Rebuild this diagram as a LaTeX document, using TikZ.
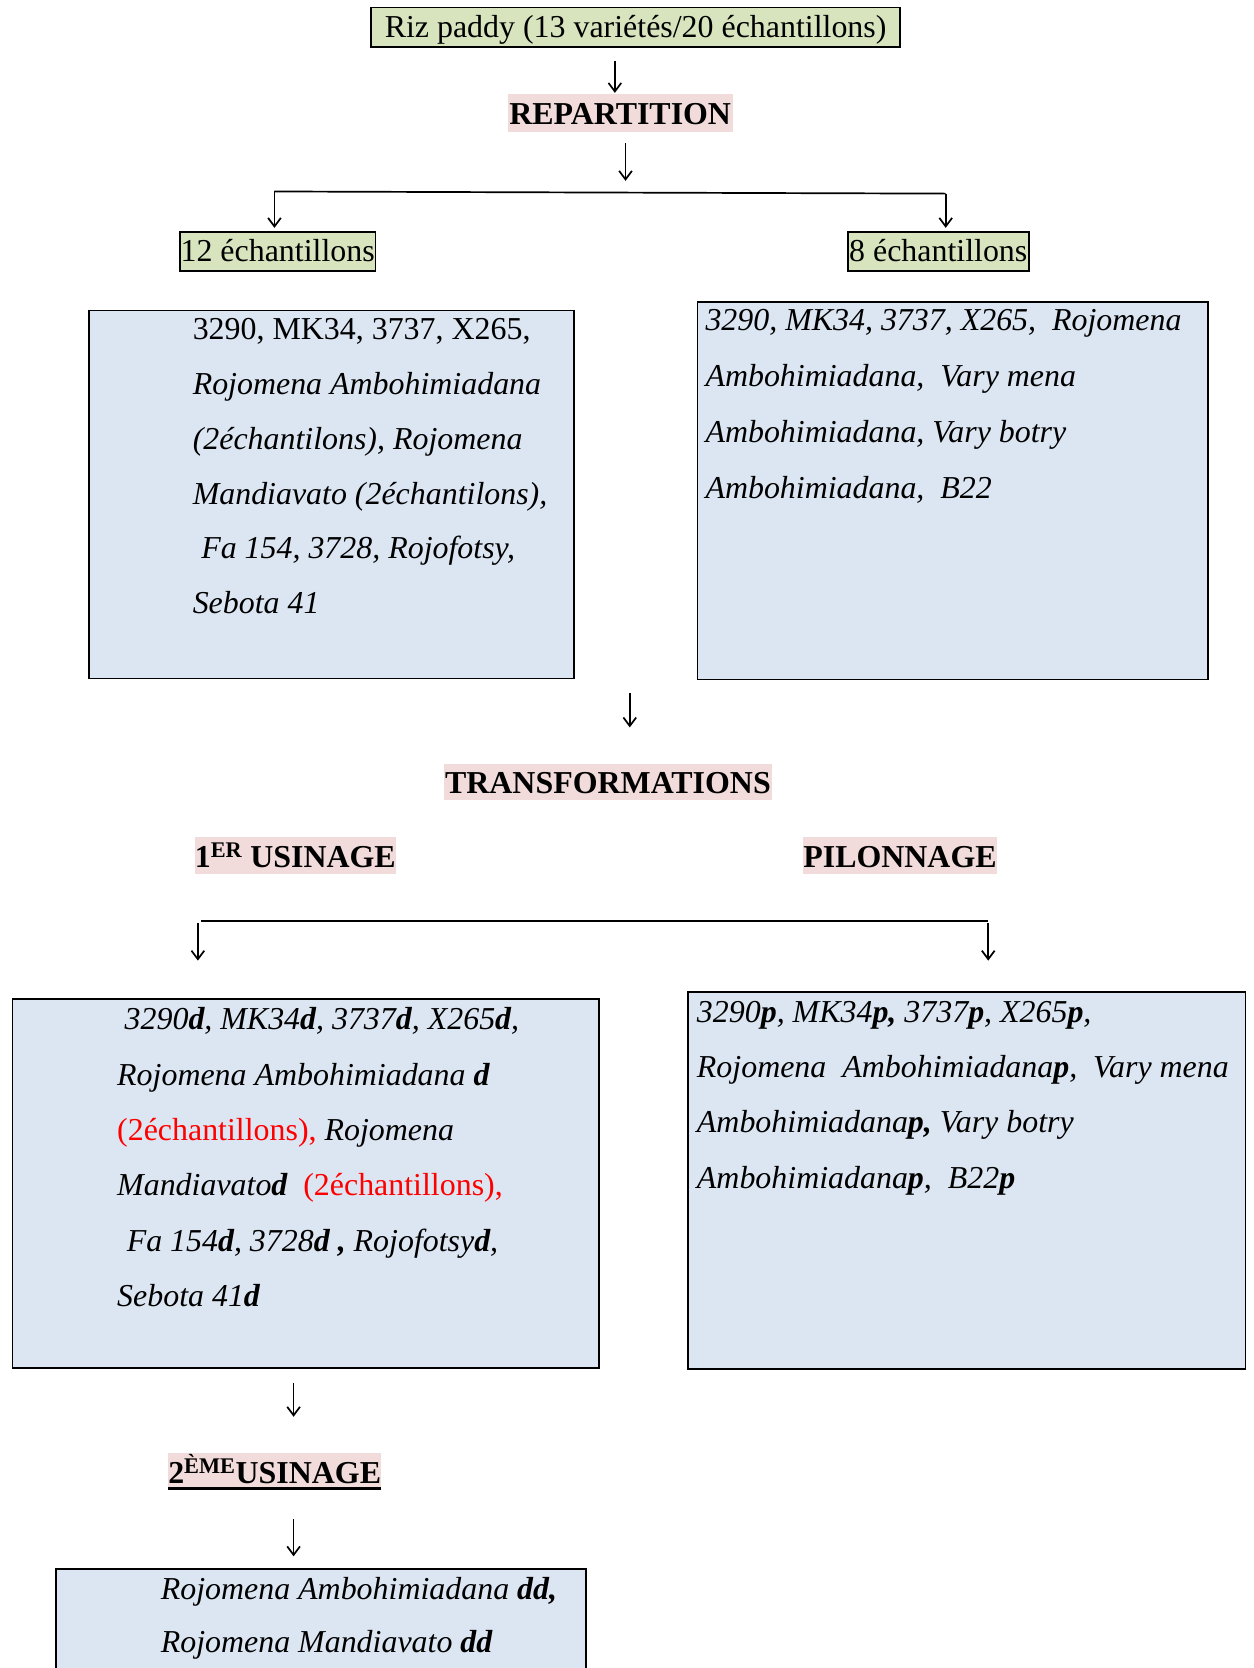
\documentclass[tikz,border=0pt]{standalone}
\usepackage{fontspec}
\setmainfont{Liberation Serif}
\usetikzlibrary{arrows.meta}
\definecolor{mygreen}{HTML}{D7E4BD}
\definecolor{mypink}{HTML}{F2DCDB}
\definecolor{myblue}{HTML}{DCE6F2}
\definecolor{myred}{HTML}{FF0000}
\tikzset{
  greenbox/.style={draw, line width=1.6pt, fill=mygreen, inner sep=0pt, text height=28pt, text depth=9pt, font=\fontsize{30}{36}\selectfont},
  hl/.style={fill=mypink, inner xsep=1.5pt, inner ysep=0pt, text height=29pt, text depth=7pt, font=\fontsize{30}{36}\selectfont\bfseries},
  bluebox/.style={draw, line width=1.6pt, fill=myblue, inner sep=0pt, anchor=north west},
  txt/.style={anchor=base west, inner sep=0pt, font=\fontsize{30}{36}\selectfont},
  arr/.style={line width=1.6pt, -{Straight Barb[length=8pt,width=12pt,line width=1.6pt]}},
  conn/.style={line width=1.6pt}
}
\begin{document}
\begin{tikzpicture}[x=1pt,y=-1pt]
\useasboundingbox (0,0) rectangle (1178,1568);
\clip (0,0) rectangle (1178,1568);
\fill[white] (0,0) rectangle (1178,1568);

% top
\node[greenbox, minimum width=497pt, anchor=base] (riz) at (597.5,35) {Riz paddy (13 variétés/20 échantillons)};
\node[hl, anchor=base] (rep) at (583,117.5) {REPARTITION};
\coordinate (c1) at (578,0);
\draw[arr] ([yshift=-13pt]riz.south -| c1) -- ([yshift=1pt]rep.north -| c1);

\coordinate (sl) at (258,180);
\coordinate (sr) at (889,182);
\coordinate (c2) at (588,0);
\draw[arr] ([yshift=-10pt]rep.south -| c2) -- ([yshift=10pt]sl -| c2);
\draw[conn] (sl) -- (sr);

\node[greenbox, minimum width=184pt, anchor=base] (e12) at (261,246) {12 échantillons};
\node[greenbox, minimum width=170pt, anchor=base] (e8) at (882,246) {8 échantillons};
\draw[arr] (sl) -- ([yshift=3pt]e12.north -| sl);
\draw[arr] (sr) -- ([yshift=3pt]e8.north -| sr);

% first boxes
\node[bluebox, minimum width=456pt, minimum height=346pt] (b1l) at (83,291) {};
\node[bluebox, minimum width=480pt, minimum height=355pt] (b1r) at (655,283) {};

\node[txt] (l1) at (181,319) {3290, MK34, 3737, X265,};
\node[txt] (l2) at (181,370.6) {\itshape Rojomena Ambohimiadana};
\node[txt] (l3) at (181,422.2) {\itshape (2échantilons), Rojomena};
\node[txt] (l4) at (181,473.8) {\itshape Mandiavato (2échantilons),};
\node[txt] (l5) at (189,525.4) {\itshape Fa 154, 3728, Rojofotsy,};
\node[txt] (l6) at (181,577) {\itshape Sebota 41};

\node[txt] (r1) at (663,311) {\itshape 3290, MK34, 3737, X265,~ Rojomena};
\node[txt] (r2) at (663,363.4) {\itshape Ambohimiadana,~ Vary mena};
\node[txt] (r3) at (663,415.8) {\itshape Ambohimiadana, Vary botry};
\node[txt] (r4) at (663,468.2) {\itshape Ambohimiadana,~ B22};

% transformations
\node[hl, anchor=base, text height=27.5pt, text depth=6.5pt] (tr) at (571.5,745.5) {TRANSFORMATIONS};
\coordinate (c3) at (592,0);
\draw[arr] ([yshift=-12pt]b1r.south -| c3) -- ([yshift=34pt]tr.north -| c3);

\node[hl, anchor=base west, text height=28.5pt, text depth=6.5pt, inner xsep=0pt] (us1) at (183,815.5) {1\textsuperscript{ER} USINAGE};
\node[hl, anchor=base west, text height=28.5pt, text depth=6.5pt, inner xsep=0pt] (pil) at (755,815.5) {PILONNAGE};

\coordinate (ml) at (189,866);
\coordinate (mla) at (186,866);
\coordinate (mr) at (929,866);
\draw[conn] (ml) -- (mr);

\node[bluebox, minimum width=551pt, minimum height=347pt] (b2l) at (11,938) {};
\node[bluebox, minimum width=524pt, minimum height=354pt] (b2r) at (646,932) {};
\draw[arr] ([yshift=-2pt]mla) -- ([yshift=35pt]b2l.north -| mla);
\draw[arr] ([yshift=-2pt]mr) -- ([yshift=29pt]b2r.north -| mr);

\node[txt] (m1) at (117,968) {\itshape 3290\textbf{d}, MK34\textbf{d}, 3737\textbf{d}, X265\textbf{d},};
\node[txt] (m2) at (110,1020) {\itshape Rojomena Ambohimiadana \textbf{d}};
\node[txt] (m3) at (110,1072) {\textcolor{myred}{(2échantillons),} \itshape Rojomena};
\node[txt] (m4) at (110,1124) {\itshape Mandiavato\textbf{d}~ \upshape\textcolor{myred}{(2échantillons),}};
\node[txt] (m5) at (119,1176) {\itshape Fa 154\textbf{d}, 3728\textbf{d} \textbf{,} Rojofotsy\textbf{d},};
\node[txt] (m6) at (110,1228) {\itshape Sebota 41\textbf{d}};

\node[txt] (p1) at (655,961) {\itshape 3290\textbf{p}, MK34\textbf{p,} 3737\textbf{p}, X265\textbf{p},};
\node[txt] (p2) at (655,1013) {\itshape Rojomena~ Ambohimiadana\textbf{p},~ Vary mena};
\node[txt] (p3) at (655,1065) {\itshape Ambohimiadana\textbf{p,} Vary botry};
\node[txt] (p4) at (655,1117) {\itshape Ambohimiadana\textbf{p},~ B22\textbf{p}};

% second usinage
\node[hl, anchor=base west, text height=28.5pt, text depth=5.5pt, inner xsep=0pt] (us2) at (158,1394.5) {2\textsuperscript{ÈME}USINAGE};
\draw[line width=2pt] ([yshift=1pt]us2.south west) -- ([yshift=1pt]us2.south east);
\coordinate (c4) at (276,0);
\draw[arr] ([yshift=-13pt]b2l.south -| c4) -- ([yshift=34pt]us2.north -| c4);

\node[bluebox, minimum width=498pt, minimum height=200pt] (b3) at (52,1474) {};
\draw[arr] ([yshift=-28pt]us2.south -| c4) -- ([yshift=11pt]b3.north -| c4);

\node[txt] (d1) at (151,1504) {\itshape Rojomena Ambohimiadana \textbf{dd,}};
\node[txt] (d2) at (151,1553) {\itshape Rojomena Mandiavato \textbf{dd}};
\end{tikzpicture}
\end{document}
